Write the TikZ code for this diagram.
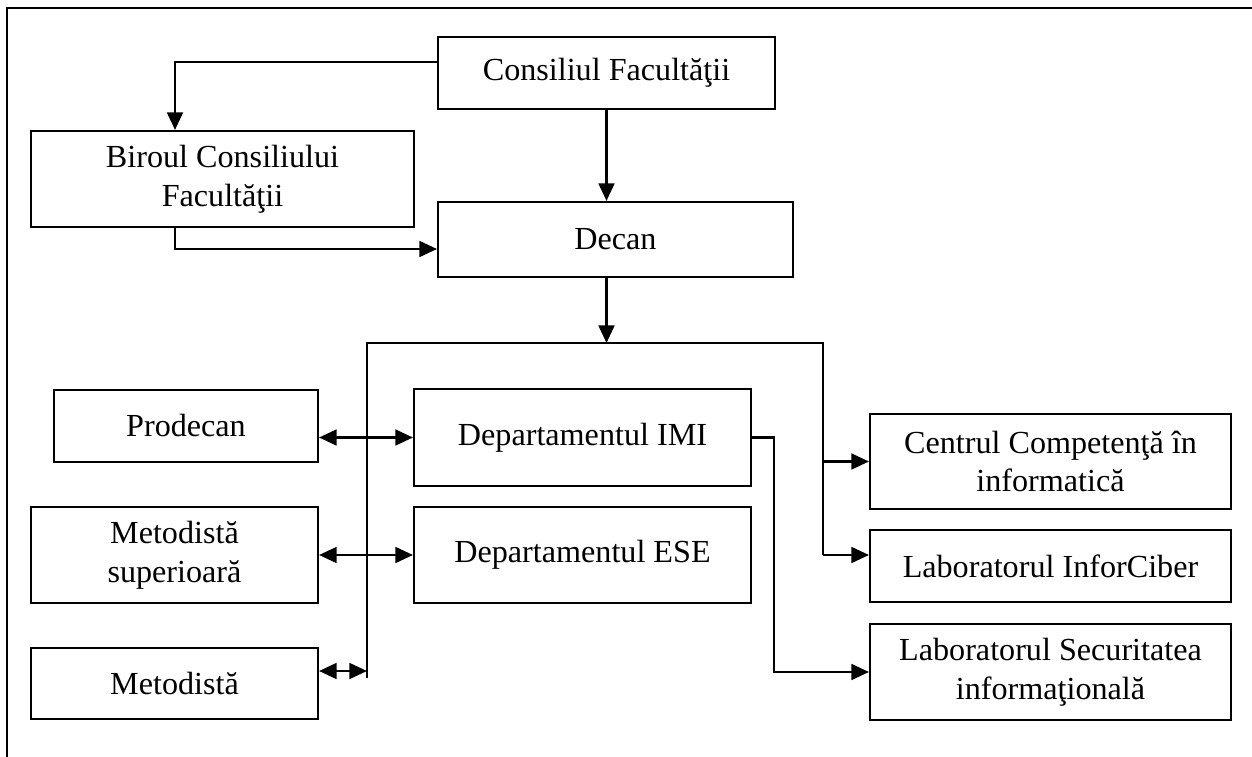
\documentclass[tikz,border=0pt]{standalone}
\usepackage{fontspec}
\setmainfont{Liberation Serif}
\usetikzlibrary{arrows.meta}

\begin{document}
\begin{tikzpicture}[x=0.02cm,y=-0.02cm,
    box/.style={draw, line width=1.2pt, align=center, inner sep=2pt,
        font=\fontsize{18.3}{22}\selectfont},
    arr/.style={line width=1.3pt, -{Triangle[length=10pt,width=9pt]}},
    darr/.style={line width=1.3pt, {Triangle[length=10pt,width=9pt]}-{Triangle[length=10pt,width=9pt]}}]
    \useasboundingbox (0,0) rectangle (1252,757);

    % Page frame
    \draw[line width=1.4pt] (1252,8) -- (7,8) -- (7,757);

    % Top of the hierarchy
    \node[box, minimum width=337*0.02cm, minimum height=72*0.02cm] (cons) at (606.5,73) {Consiliul Facultăţii};
    \node[box, minimum width=383*0.02cm, minimum height=96*0.02cm] (birou) at (222.5,179) {Biroul Consiliului\\Facultăţii};
    \node[box, minimum width=355*0.02cm, minimum height=75*0.02cm] (decan) at (615.5,239.5) {Decan};

    % Left column
    \node[box, minimum width=264*0.02cm, minimum height=72*0.02cm] (prodecan) at (186,426) {Prodecan};
    \node[box, minimum width=287*0.02cm, minimum height=96*0.02cm] (metsup) at (174.5,555) {Metodistă\\superioară};
    \node[box, minimum width=287*0.02cm, minimum height=71*0.02cm] (metod) at (174.5,683.5) {Metodistă};

    % Departments
    \node[box, minimum width=337*0.02cm, minimum height=97*0.02cm] (imi) at (582.5,437.5) {Departamentul IMI};
    \node[box, minimum width=337*0.02cm, minimum height=96*0.02cm] (ese) at (582.5,555) {Departamentul ESE};

    % Right column
    \node[box, minimum width=361*0.02cm, minimum height=95*0.02cm] (centru) at (1050.5,461.5) {Centrul Competenţă în\\informatică};
    \node[box, minimum width=361*0.02cm, minimum height=72*0.02cm] (infor) at (1050.5,566) {Laboratorul InforCiber};
    \node[box, minimum width=361*0.02cm, minimum height=96*0.02cm] (labsec) at (1050.5,672) {Laboratorul Securitatea\\informaţională};

    % Bends and bus
    \coordinate (k1) at (175,62);
    \coordinate (k2) at (175,249);
    \coordinate (busL) at (367,343);
    \coordinate (busR) at (823,343);
    \coordinate (busLbot) at (367,678);
    \coordinate (busRbot) at (823,555);
    \coordinate (k3) at (367,671);
    \coordinate (k4) at (774,672);

    % Connectors
    \draw[arr] (cons.west |- k1) -- (k1) -- (birou.north -| k1);
    \draw[arr] (cons.south) -- (cons.south |- decan.north);
    \draw[arr] (birou.south -| k2) -- (k2) -- (decan.west |- k2);
    \draw[arr] (decan.south -| cons) -- (cons |- busL);
    \draw[line width=1.3pt] (busLbot) -- (busL) -- (busR) -- (busRbot);
    \draw[darr] (prodecan.east |- imi.west) -- (imi.west);
    \draw[darr] (metsup.east) -- (ese.west);
    \draw[darr] (metod.east |- k3) -- (k3);
    \draw[arr] (busR |- centru.west) -- (centru.west);
    \draw[arr] (busRbot) -- (infor.west |- busRbot);
    \draw[arr] (imi.east) -| (k4) -- (labsec.west);
\end{tikzpicture}
\end{document}
